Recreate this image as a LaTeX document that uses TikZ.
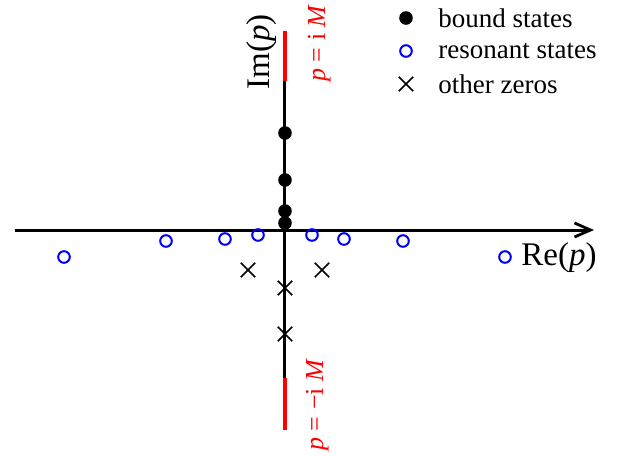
\documentclass[tikz,border=0pt]{standalone}
\usepackage{fontspec}
\setmainfont{Liberation Serif}
\usetikzlibrary{arrows.meta,shapes.misc}
\definecolor{resblue}{RGB}{0,0,255}
\definecolor{cutred}{RGB}{255,0,0}
\tikzset{
  bound/.style={circle,fill=black,inner sep=0pt,minimum size=6.8pt},
  reson/.style={circle,draw=resblue,line width=1pt,inner sep=0pt,minimum size=5.8pt},
  otherz/.style={cross out,draw=black,line width=0.8pt,inner sep=0pt,minimum size=6.4pt},
  axisline/.style={line width=1.5pt,black},
  cutline/.style={line width=2.1pt,cutred},
  axislabel/.style={font=\fontsize{16.5}{18}\selectfont,inner sep=0pt},
  legtext/.style={font=\fontsize{13.5}{15}\selectfont,anchor=west,inner sep=0pt},
  cutlabel/.style={font=\fontsize{13}{14}\selectfont,text=cutred,inner sep=0pt,rotate=90,anchor=south west}
}
\begin{document}
\begin{tikzpicture}[x=0.5pt,y=-0.5pt]
\useasboundingbox (0,0) rectangle (629,456);
% axes
\coordinate (xl) at (15,230);
\coordinate (xr) at (594,230);
\coordinate (yt) at (285,31);
\coordinate (yb) at (285,430);
\coordinate (ct1) at (285,81);
\coordinate (cb1) at (285,378);
\draw[axisline] (yt) -- (yb);
\draw[axisline,-{Straight Barb[length=8pt,width=7pt,line width=1.4pt]}] (xl) -- (xr);
\draw[cutline] (yt) -- (ct1);
\draw[cutline] (cb1) -- (yb);
% labels
\node[axislabel,rotate=90] (im) at (262,52) {Im(\textit{p})};
\node[axislabel,anchor=west] (re) at (521,258) {Re(\textit{p})};
\node[cutlabel] (cut1) at (331,82) {\textit{p} = i \textit{M}};
\node[cutlabel] (cut2) at (329,451) {\textit{p} = −i \textit{M}};
% bound states
\node[bound] (b1) at (285,133) {};
\node[bound] (b2) at (285,180) {};
\node[bound] (b3) at (285,211) {};
\node[bound] (b4) at (285,223) {};
% resonant states
\node[reson] (r1) at (64,257) {};
\node[reson] (r2) at (166,241) {};
\node[reson] (r3) at (225,239) {};
\node[reson] (r4) at (258,235) {};
\node[reson] (r5) at (312,235) {};
\node[reson] (r6) at (344,239) {};
\node[reson] (r7) at (403,241) {};
\node[reson] (r8) at (505,257) {};
% other zeros
\node[otherz] (z1) at (248,270) {};
\node[otherz] (z2) at (322,270) {};
\node[otherz] (z3) at (285,288) {};
\node[otherz] (z4) at (285,334) {};
% legend
\node[bound] (lb) at (406,18) {};
\node[legtext] (lbt) at (438,18) {bound states};
\node[reson] (lr) at (406,51) {};
\node[legtext] (lrt) at (438,51) {resonant states};
\node[otherz] (lz) at (406,84) {};
\node[legtext] (lzt) at (438,84) {other zeros};
\end{tikzpicture}
\end{document}
